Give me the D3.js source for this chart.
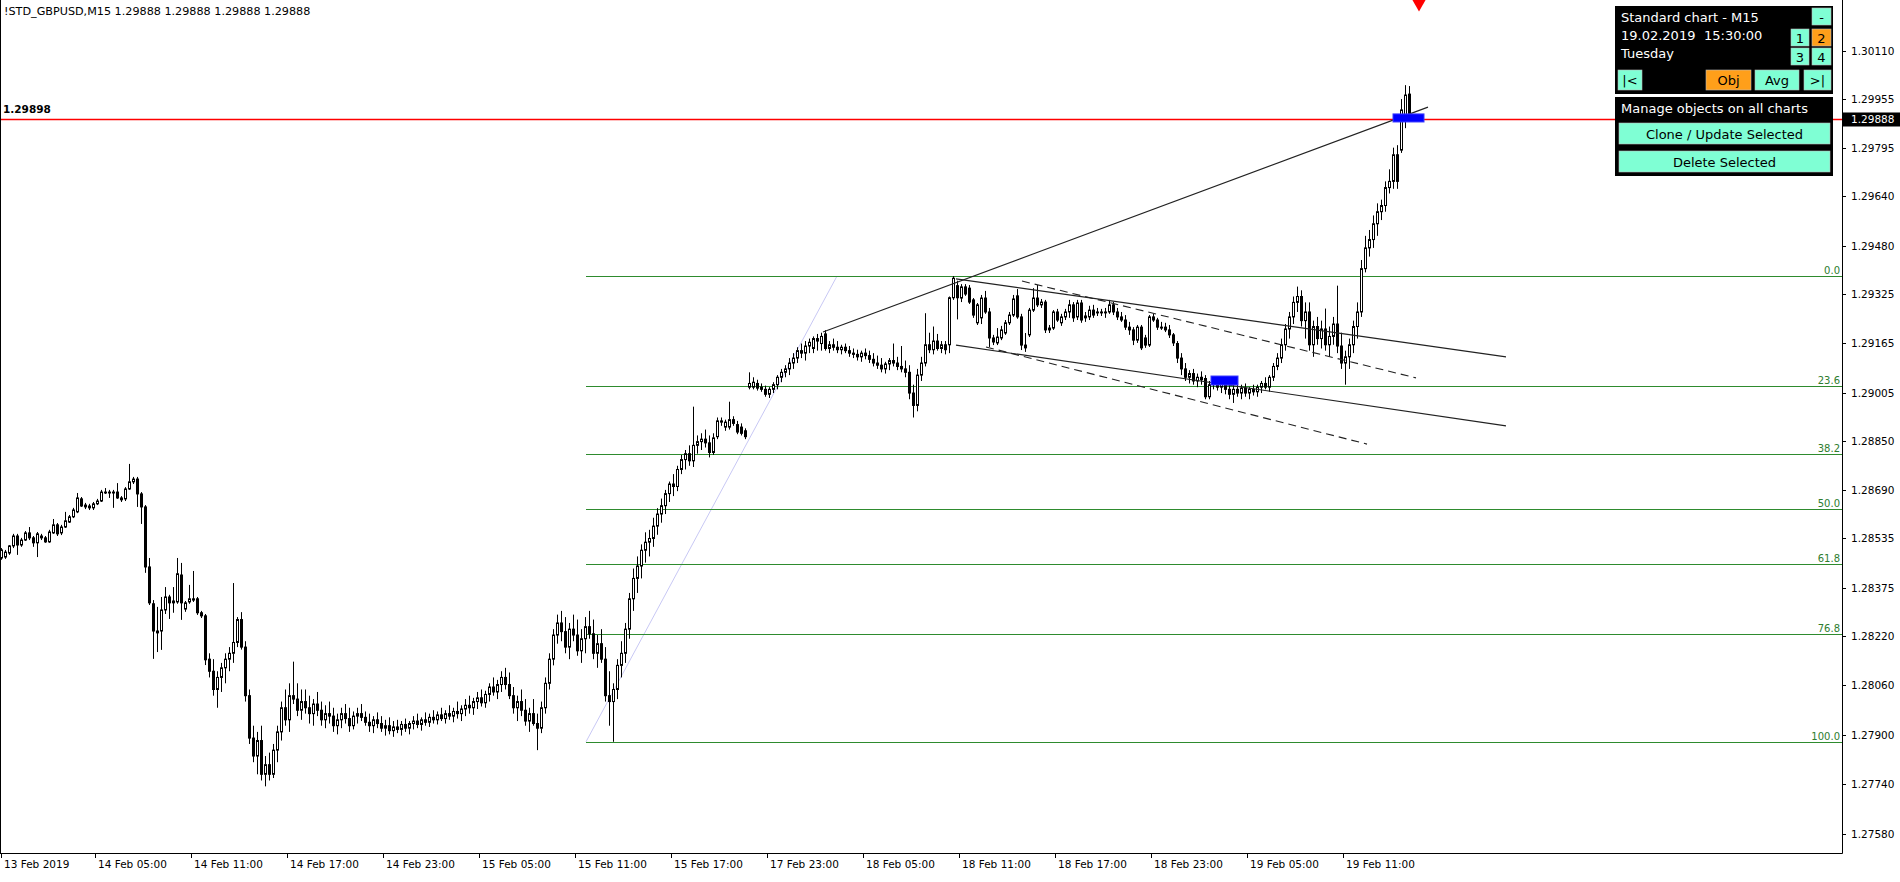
<!DOCTYPE html>
<html><head><meta charset="utf-8">
<script src="https://cdn.jsdelivr.net/npm/d3@7"></script>
<style>
body{margin:0;background:#fff;overflow:hidden}
svg{display:block}
text{font-family:"DejaVu Sans",sans-serif}
</style></head>
<body><svg id="c" width="1900" height="882"></svg>
<script>
// ---- data: M15 candles, GBPUSD, 13 Feb 23:00 .. 19 Feb 15:30 ----
const opens=[
1.28471,1.28474,1.28487,1.28510,1.28542,1.28513,1.28529,1.28552,1.28536,1.28520,1.28542,1.28536,1.28523,1.28552,1.28578,1.28552,1.28571,1.28587,1.28604,1.28620,
1.28662,1.28642,1.28639,1.28633,1.28646,1.28655,1.28681,1.28684,1.28684,1.28684,1.28665,1.28662,1.28694,1.28717,1.28726,1.28678,1.28636,1.28442,1.28323,1.28229,
1.28235,1.28303,1.28345,1.28332,1.28329,1.28416,1.28306,1.28329,1.28339,1.28339,1.28294,1.28284,
1.28144,1.28105,1.28046,1.28085,1.28116,1.28144,1.28163,1.28198,1.28272,1.28183,
1.28026,1.27889,1.27831,1.27881,1.27772,1.27803,1.27772,1.27850,1.27909,1.27987,
1.27948,1.28026,1.28015,1.27979,1.28007,1.27987,1.27968,1.27999,1.27979,1.27948,
1.27968,1.27960,1.27929,1.27948,1.27968,1.27952,1.27929,1.27960,1.27968,1.27956,
1.27940,1.27929,1.27948,1.27936,1.27921,1.27929,1.27913,1.27925,1.27917,1.27933,
1.27921,1.27936,1.27944,1.27933,1.27948,1.27940,1.27956,1.27948,1.27964,1.27952,
1.27968,1.27960,1.27975,1.27968,1.27983,1.27995,1.27987,1.28007,1.28019,1.28003,
1.28030,1.28054,1.28038,1.28062,1.28085,1.28062,1.28026,1.27987,1.28007,1.27979,
1.27944,1.27968,1.27936,1.27921,1.27987,1.28066,1.28144,1.28222,1.28261,1.28233,
1.28183,1.28241,1.28222,1.28171,1.28210,1.28249,1.28226,1.28163,1.28194,1.28144,
1.28026,1.28007,1.28046,1.28124,1.28163,1.28241,1.28339,1.28405,1.28445,1.28496,
1.28522,1.28534,1.28574,1.28613,1.28640,1.28679,1.28710,1.28702,1.28757,1.28789,
1.28808,1.28785,1.28835,1.28847,1.28855,1.28843,1.28812,1.28863,1.28910,1.28894,
1.28894,1.28918,1.28902,1.28894,1.28882,1.29023,1.29023,1.29035,1.29023,1.29016,
1.29000,1.29016,1.29031,1.29055,1.29071,1.29082,1.29101,1.29117,1.29141,1.29133,
1.29156,1.29148,1.29180,1.29164,1.29195,1.29148,1.29160,1.29152,1.29144,1.29152,
1.29141,1.29133,1.29129,1.29121,1.29133,1.29125,1.29113,1.29101,1.29094,1.29082,
1.29098,1.29109,1.29101,1.29090,1.29082,1.29071,1.29004,1.28964,1.29062,1.29101,
1.29160,1.29144,1.29172,1.29148,1.29160,1.29160,1.29312,1.29351,1.29311,1.29347,
1.29343,1.29305,1.29231,1.29247,1.29311,1.29266,1.29182,1.29166,1.29182,1.29198,
1.29231,1.29256,1.29318,1.29250,1.29159,1.29192,1.29272,1.29311,1.29289,1.29298,
1.29208,1.29214,1.29266,1.29231,1.29250,1.29266,1.29289,1.29250,1.29295,1.29253,
1.29250,1.29272,1.29266,1.29263,1.29266,1.29266,1.29289,1.29266,1.29250,1.29240,
1.29217,1.29208,1.29175,1.29217,1.29182,1.29159,1.29250,1.29240,1.29217,1.29217,
1.29208,1.29192,1.29164,1.29117,1.29082,1.29055,1.29067,1.29043,1.29055,1.29051,
1.28992,1.29031,1.29039,1.29023,1.29035,1.29016,1.29000,1.29016,1.29004,1.29020,
1.29004,1.29016,1.29008,1.29023,1.29035,1.29023,1.29055,1.29090,1.29117,1.29160,
1.29211,1.29250,1.29297,1.29316,1.29238,1.29266,1.29160,1.29219,1.29180,1.29211,
1.29160,1.29187,1.29227,1.29156,1.29101,1.29121,1.29160,1.29219,1.29266,1.29406,
1.29473,1.29500,1.29551,1.29590,1.29610,1.29668,1.29688,1.29774,1.29789,1.29893,
1.29970];
const highs=[
1.28503,1.28497,1.28513,1.28549,1.28549,1.28536,1.28558,1.28571,1.28542,1.28555,1.28549,1.28542,1.28562,1.28597,1.28584,1.28578,1.28620,1.28610,1.28633,1.28681,
1.28668,1.28649,1.28646,1.28652,1.28662,1.28691,1.28697,1.28691,1.28691,1.28713,1.28671,1.28700,1.28775,1.28733,1.28733,1.28684,1.28642,1.28471,1.28335,1.28313,
1.28345,1.28377,1.28352,1.28377,1.28471,1.28455,1.28332,1.28384,1.28429,1.28345,1.28300,1.28290,
1.28163,1.28144,1.28105,1.28132,1.28163,1.28183,1.28390,1.28280,1.28296,1.28202,
1.28046,1.27929,1.27909,1.27929,1.27831,1.27842,1.27870,1.27929,1.28007,1.28046,
1.28066,1.28136,1.28066,1.28046,1.28046,1.28026,1.28015,1.28038,1.28007,1.27995,
1.28007,1.27987,1.27968,1.27987,1.27999,1.27987,1.27975,1.27987,1.27999,1.27975,
1.27968,1.27960,1.27972,1.27960,1.27948,1.27956,1.27944,1.27948,1.27944,1.27952,
1.27944,1.27960,1.27968,1.27956,1.27972,1.27968,1.27979,1.27975,1.27987,1.27979,
1.27995,1.27987,1.28007,1.27995,1.28015,1.28026,1.28019,1.28038,1.28046,1.28042,
1.28066,1.28085,1.28077,1.28105,1.28116,1.28101,1.28054,1.28026,1.28046,1.28015,
1.27987,1.28015,1.27968,1.28007,1.28085,1.28163,1.28241,1.28288,1.28300,1.28280,
1.28261,1.28288,1.28272,1.28241,1.28280,1.28300,1.28272,1.28222,1.28241,1.28183,
1.28105,1.28066,1.28144,1.28202,1.28261,1.28358,1.28437,1.28476,1.28515,1.28554,
1.28562,1.28601,1.28632,1.28663,1.28691,1.28718,1.28742,1.28769,1.28804,1.28820,
1.28835,1.28960,1.28867,1.28874,1.28886,1.28867,1.28874,1.28925,1.28925,1.28918,
1.28976,1.28929,1.28914,1.28906,1.28890,1.29071,1.29055,1.29047,1.29035,1.29028,
1.29023,1.29039,1.29062,1.29082,1.29094,1.29117,1.29133,1.29152,1.29164,1.29172,
1.29180,1.29187,1.29195,1.29199,1.29207,1.29172,1.29180,1.29172,1.29160,1.29164,
1.29156,1.29148,1.29144,1.29141,1.29148,1.29141,1.29133,1.29125,1.29117,1.29105,
1.29117,1.29164,1.29121,1.29156,1.29109,1.29094,1.29031,1.29082,1.29121,1.29262,
1.29199,1.29219,1.29195,1.29172,1.29172,1.29316,1.29382,1.29367,1.29356,1.29356,
1.29353,1.29311,1.29295,1.29321,1.29334,1.29279,1.29192,1.29214,1.29221,1.29240,
1.29266,1.29321,1.29340,1.29260,1.29198,1.29279,1.29343,1.29353,1.29308,1.29305,
1.29224,1.29272,1.29276,1.29260,1.29276,1.29305,1.29298,1.29305,1.29305,1.29266,
1.29286,1.29289,1.29279,1.29276,1.29279,1.29305,1.29298,1.29279,1.29266,1.29256,
1.29234,1.29217,1.29224,1.29224,1.29192,1.29256,1.29260,1.29247,1.29234,1.29231,
1.29224,1.29198,1.29172,1.29133,1.29101,1.29078,1.29082,1.29067,1.29074,1.29062,
1.29043,1.29055,1.29051,1.29047,1.29051,1.29039,1.29031,1.29039,1.29031,1.29035,
1.29023,1.29031,1.29031,1.29043,1.29055,1.29062,1.29101,1.29133,1.29180,1.29227,
1.29266,1.29316,1.29348,1.29336,1.29297,1.29297,1.29238,1.29250,1.29238,1.29277,
1.29219,1.29250,1.29351,1.29199,1.29141,1.29180,1.29238,1.29297,1.29434,1.29512,
1.29531,1.29578,1.29617,1.29629,1.29688,1.29727,1.29797,1.29805,1.29954,1.29999,
1.29996];
const lows=[
1.28465,1.28468,1.28481,1.28503,1.28481,1.28507,1.28526,1.28529,1.28507,1.28474,1.28529,1.28520,1.28520,1.28549,1.28542,1.28545,1.28568,1.28584,1.28600,1.28616,
1.28636,1.28629,1.28626,1.28626,1.28642,1.28652,1.28678,1.28665,1.28633,1.28662,1.28652,1.28655,1.28691,1.28710,1.28636,1.28581,1.28423,1.28319,1.28145,1.28167,
1.28174,1.28290,1.28274,1.28294,1.28323,1.28271,1.28297,1.28323,1.28329,1.28287,1.28277,1.28125,
1.28085,1.28026,1.27987,1.28038,1.28066,1.28105,1.28132,1.28183,1.28175,1.28007,
1.27870,1.27811,1.27772,1.27752,1.27733,1.27752,1.27760,1.27811,1.27881,1.27929,
1.27909,1.27999,1.27960,1.27948,1.27968,1.27936,1.27929,1.27960,1.27929,1.27921,
1.27936,1.27909,1.27901,1.27921,1.27936,1.27909,1.27917,1.27936,1.27944,1.27929,
1.27909,1.27905,1.27921,1.27909,1.27897,1.27901,1.27893,1.27905,1.27897,1.27909,
1.27901,1.27917,1.27921,1.27913,1.27929,1.27925,1.27936,1.27933,1.27944,1.27936,
1.27948,1.27940,1.27952,1.27944,1.27960,1.27968,1.27964,1.27983,1.27991,1.27987,
1.28007,1.28026,1.28015,1.28038,1.28046,1.28015,1.27968,1.27944,1.27960,1.27929,
1.27909,1.27929,1.27850,1.27905,1.27968,1.28046,1.28124,1.28194,1.28202,1.28163,
1.28144,1.28202,1.28155,1.28132,1.28163,1.28210,1.28144,1.28116,1.28132,1.28007,
1.27929,1.27877,1.28015,1.28085,1.28132,1.28210,1.28300,1.28358,1.28405,1.28456,
1.28476,1.28507,1.28546,1.28585,1.28613,1.28652,1.28671,1.28687,1.28742,1.28757,
1.28769,1.28765,1.28808,1.28820,1.28828,1.28796,1.28804,1.28855,1.28898,1.28882,
1.28886,1.28898,1.28871,1.28867,1.28855,1.29016,1.29016,1.29012,1.29008,1.28992,
1.28988,1.29004,1.29016,1.29039,1.29055,1.29062,1.29082,1.29101,1.29117,1.29109,
1.29133,1.29133,1.29141,1.29141,1.29141,1.29133,1.29141,1.29133,1.29129,1.29133,
1.29121,1.29117,1.29109,1.29105,1.29113,1.29101,1.29090,1.29082,1.29071,1.29067,
1.29078,1.29090,1.29078,1.29071,1.29055,1.28984,1.28925,1.28945,1.29043,1.29090,
1.29133,1.29129,1.29141,1.29133,1.29129,1.29133,1.29305,1.29242,1.29298,1.29318,
1.29292,1.29247,1.29224,1.29227,1.29260,1.29153,1.29159,1.29159,1.29175,1.29192,
1.29224,1.29250,1.29244,1.29143,1.29137,1.29185,1.29266,1.29282,1.29279,1.29198,
1.29198,1.29208,1.29234,1.29221,1.29240,1.29247,1.29234,1.29240,1.29231,1.29234,
1.29240,1.29247,1.29253,1.29253,1.29247,1.29260,1.29256,1.29240,1.29234,1.29208,
1.29192,1.29159,1.29166,1.29143,1.29150,1.29153,1.29234,1.29208,1.29208,1.29201,
1.29182,1.29156,1.29101,1.29062,1.29043,1.29035,1.29031,1.29023,1.29031,1.28984,
1.28984,1.29016,1.29012,1.29004,1.29000,1.28984,1.28972,1.28992,1.28984,1.28992,
1.28984,1.28996,1.28992,1.29004,1.29016,1.29008,1.29043,1.29078,1.29101,1.29141,
1.29180,1.29227,1.29266,1.29219,1.29180,1.29141,1.29121,1.29160,1.29148,1.29141,
1.29121,1.29160,1.29133,1.29082,1.29031,1.29082,1.29133,1.29180,1.29250,1.29394,
1.29445,1.29473,1.29512,1.29563,1.29590,1.29649,1.29664,1.29664,1.29780,1.29860,
1.29880];
const closes=[
1.28497,1.28490,1.28510,1.28542,1.28513,1.28529,1.28552,1.28536,1.28520,1.28549,1.28536,1.28523,1.28555,1.28578,1.28549,1.28571,1.28591,1.28604,1.28626,1.28665,
1.28639,1.28636,1.28633,1.28646,1.28655,1.28684,1.28684,1.28681,1.28681,1.28665,1.28659,1.28694,1.28717,1.28726,1.28678,1.28636,1.28442,1.28326,1.28235,1.28235,
1.28303,1.28345,1.28326,1.28326,1.28420,1.28326,1.28326,1.28339,1.28335,1.28294,1.28284,1.28142,
1.28105,1.28046,1.28085,1.28116,1.28144,1.28163,1.28198,1.28272,1.28183,1.28026,
1.27889,1.27831,1.27881,1.27772,1.27803,1.27772,1.27850,1.27909,1.27987,1.27948,
1.28026,1.28015,1.27979,1.28007,1.27987,1.27968,1.27999,1.27979,1.27948,1.27968,
1.27960,1.27929,1.27948,1.27968,1.27952,1.27929,1.27960,1.27968,1.27956,1.27940,
1.27929,1.27948,1.27936,1.27921,1.27929,1.27913,1.27925,1.27917,1.27933,1.27921,
1.27936,1.27944,1.27933,1.27948,1.27940,1.27956,1.27948,1.27964,1.27952,1.27968,
1.27960,1.27975,1.27968,1.27983,1.27995,1.27987,1.28007,1.28019,1.28003,1.28030,
1.28054,1.28038,1.28062,1.28085,1.28062,1.28026,1.27987,1.28007,1.27979,1.27944,
1.27968,1.27936,1.27921,1.27987,1.28066,1.28144,1.28222,1.28261,1.28233,1.28183,
1.28241,1.28222,1.28171,1.28210,1.28249,1.28226,1.28163,1.28194,1.28144,1.28026,
1.28007,1.28046,1.28124,1.28163,1.28241,1.28339,1.28405,1.28445,1.28496,1.28522,
1.28534,1.28574,1.28613,1.28640,1.28679,1.28710,1.28702,1.28757,1.28789,1.28808,
1.28785,1.28835,1.28847,1.28855,1.28843,1.28812,1.28859,1.28914,1.28914,1.28910,
1.28918,1.28906,1.28878,1.28874,1.28863,1.29035,1.29039,1.29020,1.29016,1.29000,
1.29016,1.29031,1.29055,1.29071,1.29082,1.29101,1.29117,1.29141,1.29133,1.29156,
1.29168,1.29180,1.29172,1.29187,1.29148,1.29160,1.29152,1.29144,1.29152,1.29141,
1.29133,1.29129,1.29121,1.29133,1.29125,1.29113,1.29101,1.29094,1.29082,1.29098,
1.29109,1.29101,1.29090,1.29082,1.29071,1.29004,1.28964,1.29062,1.29101,1.29160,
1.29144,1.29172,1.29148,1.29160,1.29144,1.29312,1.29375,1.29312,1.29347,1.29324,
1.29298,1.29256,1.29289,1.29311,1.29266,1.29182,1.29169,1.29185,1.29208,1.29231,
1.29256,1.29308,1.29250,1.29159,1.29150,1.29272,1.29311,1.29289,1.29298,1.29208,
1.29214,1.29266,1.29240,1.29250,1.29266,1.29289,1.29247,1.29295,1.29240,1.29247,
1.29272,1.29256,1.29263,1.29266,1.29263,1.29289,1.29266,1.29250,1.29240,1.29217,
1.29208,1.29175,1.29217,1.29150,1.29159,1.29250,1.29240,1.29217,1.29214,1.29208,
1.29192,1.29166,1.29117,1.29082,1.29055,1.29067,1.29043,1.29055,1.29047,1.28992,
1.29031,1.29039,1.29023,1.29035,1.29016,1.29000,1.29016,1.29004,1.29020,1.29004,
1.29016,1.29008,1.29023,1.29035,1.29023,1.29055,1.29090,1.29117,1.29160,1.29211,
1.29250,1.29297,1.29316,1.29238,1.29266,1.29160,1.29219,1.29180,1.29211,1.29160,
1.29187,1.29227,1.29156,1.29101,1.29121,1.29160,1.29219,1.29266,1.29406,1.29473,
1.29500,1.29551,1.29590,1.29610,1.29668,1.29688,1.29774,1.29688,1.29919,1.29967,
1.29888];

const timeLabels=["13 Feb 2019","14 Feb 05:00","14 Feb 11:00","14 Feb 17:00","14 Feb 23:00","15 Feb 05:00","15 Feb 11:00","15 Feb 17:00","17 Feb 23:00","18 Feb 05:00","18 Feb 11:00","18 Feb 17:00","18 Feb 23:00","19 Feb 05:00","19 Feb 11:00"];
const timeLabelBars=[0,23.5,47.5,71.5,95.5,119.5,143.5,167.5,191.5,215.5,239.5,263.5,287.5,311.5,335.5];
const priceTicks=[1.30110,1.29955,1.29795,1.29640,1.29480,1.29325,1.29165,1.29005,1.28850,1.28690,1.28535,1.28375,1.28220,1.28060,1.27900,1.27740,1.27580];
const fibHigh=1.29382, fibLow=1.27877;
const fibLevels=[0,23.6,38.2,50,61.8,76.8,100];
const fibLabels=["0.0","23.6","38.2","50.0","61.8","76.8","100.0"];
const fibStartBar=146.25, fibEndBar=209;
const bidPrice=1.29888, lineLabelPrice=1.29898;
// trend lines: [bar1, price1, bar2, price2, dashed]
const trendLines=[
 [205.5,1.29201,356.75,1.29928,false],
 [238.75,1.29373,376.25,1.29121,false],
 [238.75,1.29159,376.25,1.28898,false],
 [255.25,1.29366,353.75,1.29053,true],
 [246.25,1.29153,341.5,1.28839,true]
];
// rectangles: [bar1, bar2, priceTop, priceBottom]
const rects=[[302.5,309.25,1.29059,1.29030],[348,355.75,1.29906,1.29880]];
const titleText="!STD_GBPUSD,M15  1.29888 1.29888 1.29888 1.29888";

// ---- layout ----
const W=1900,H=882, plotR=1842, plotB=853;
const svg=d3.select("#c");
svg.append("rect").attr("width",W).attr("height",H).attr("fill","#fff");
const x=d3.scaleLinear().domain([0,352]).range([1,1409]);
const y=d3.scaleLinear().domain([1.27580,1.30110]).range([833.7,50.8]);
svg.append("defs").append("clipPath").attr("id","clip").append("rect").attr("x",0).attr("y",0).attr("width",plotR).attr("height",plotB);
const plot=svg.append("g").attr("clip-path","url(#clip)");

// fib lines
const fp=l=>fibHigh-(fibHigh-fibLow)*l/100;
plot.append("line").attr("x1",x(fibStartBar)).attr("y1",y(fibLow)).attr("x2",x(fibEndBar)).attr("y2",y(fibHigh))
 .attr("stroke","#c8c8f4").attr("stroke-width",1);
plot.selectAll("line.fib").data(fibLevels).join("line").attr("class","fib")
 .attr("x1",x(fibStartBar)).attr("x2",plotR).attr("y1",d=>Math.round(y(fp(d)))+0.5).attr("y2",d=>Math.round(y(fp(d)))+0.5)
 .attr("stroke","#2e8b2e").attr("stroke-width",1);
svg.selectAll("text.fib").data(fibLevels).join("text").attr("class","fib")
 .attr("x",plotR-2).attr("y",d=>Math.round(y(fp(d)))-2).attr("text-anchor","end")
 .attr("font-size",10).attr("fill","#2e7d2e").text((d,i)=>fibLabels[i]);

// red bid line
plot.append("line").attr("x1",0).attr("x2",plotR).attr("y1",y(bidPrice)).attr("y2",y(bidPrice)).attr("stroke","#ff0000").attr("stroke-width",1.3);
svg.append("text").attr("x",3).attr("y",y(lineLabelPrice)-3).attr("font-size",10.5).attr("font-weight","bold").attr("fill","#000").text(lineLabelPrice.toFixed(5));

// candles
const data=opens.map((o,i)=>({i,o,h:highs[i],l:lows[i],c:closes[i]}));
const cg=plot.append("g");
cg.selectAll("line.wick").data(data).join("line").attr("class","wick")
 .attr("x1",d=>Math.round(x(d.i))+0.5).attr("x2",d=>Math.round(x(d.i))+0.5)
 .attr("y1",d=>y(d.h)).attr("y2",d=>y(d.l)).attr("stroke","#000").attr("stroke-width",1);
cg.selectAll("rect.body").data(data).join("rect").attr("class","body")
 .attr("x",d=>Math.round(x(d.i))-0.5).attr("width",2)
 .attr("y",d=>Math.min(y(d.o),y(d.c))).attr("height",d=>Math.max(0.01,Math.abs(y(d.o)-y(d.c))))
 .attr("fill",d=>d.c>=d.o?"#fff":"#000").attr("stroke","#000").attr("stroke-width",1);

// trend lines
plot.selectAll("line.tl").data(trendLines).join("line").attr("class","tl")
 .attr("x1",d=>x(d[0])).attr("y1",d=>y(d[1])).attr("x2",d=>x(d[2])).attr("y2",d=>y(d[3]))
 .attr("stroke","#222").attr("stroke-width",1.1).attr("stroke-dasharray",d=>d[4]?"8,5":null);
// rectangles
plot.selectAll("rect.obj").data(rects).join("rect").attr("class","obj")
 .attr("x",d=>x(d[0])).attr("width",d=>x(d[1])-x(d[0])).attr("y",d=>y(d[2])).attr("height",d=>y(d[3])-y(d[2]))
 .attr("fill","#0000ff").attr("stroke","#3a3aff").attr("stroke-width",1);
// red marker at top
svg.append("path").attr("d",d3.symbol(d3.symbolDiamond,150)()).attr("transform",`translate(${x(354.5)},0)`).attr("fill","#ff0000");

// axes frame
svg.append("line").attr("x1",0.5).attr("x2",0.5).attr("y1",0).attr("y2",plotB).attr("stroke","#000");
svg.append("line").attr("x1",plotR+0.5).attr("x2",plotR+0.5).attr("y1",0).attr("y2",plotB+0.5).attr("stroke","#000");
svg.append("line").attr("x1",0).attr("x2",plotR+0.5).attr("y1",plotB+0.5).attr("y2",plotB+0.5).attr("stroke","#000");

// y axis
const yax=svg.append("g");
yax.selectAll("line").data(priceTicks).join("line").attr("x1",plotR).attr("x2",plotR+4)
 .attr("y1",d=>Math.round(y(d))+0.5).attr("y2",d=>Math.round(y(d))+0.5).attr("stroke","#000");
yax.selectAll("text").data(priceTicks).join("text").attr("x",plotR+9).attr("y",d=>y(d)+4)
 .attr("font-size",10.5).attr("fill","#000").text(d=>d.toFixed(5));
// bid label
svg.append("rect").attr("x",plotR+1).attr("y",y(bidPrice)-7).attr("width",57).attr("height",14).attr("fill","#000");
svg.append("text").attr("x",plotR+9).attr("y",y(bidPrice)+4).attr("font-size",10.5).attr("fill","#fff").text(bidPrice.toFixed(5));

// x axis
const xax=svg.append("g");
xax.selectAll("line").data(timeLabelBars).join("line").attr("x1",d=>Math.round(x(d))+0.5).attr("x2",d=>Math.round(x(d))+0.5)
 .attr("y1",plotB).attr("y2",plotB+5).attr("stroke","#000");
xax.selectAll("text").data(timeLabelBars).join("text").attr("x",(d,i)=>i===0?4:x(d)+3).attr("y",plotB+15)
 .attr("font-size",10.5).attr("fill","#000").text((d,i)=>timeLabels[i]);

// title
svg.append("text").attr("x",4).attr("y",15).attr("font-size",11.2).attr("fill","#000").text(titleText);

// panel
const P=svg.append("g").attr("font-family","Liberation Sans, Arial, sans-serif");
P.append("rect").attr("x",1615).attr("y",6).attr("width",218).attr("height",88).attr("fill","#000");
P.append("rect").attr("x",1615).attr("y",97).attr("width",218).attr("height",79).attr("fill","#000");
const btn=(x0,y0,w,h,fill,label)=>{P.append("rect").attr("x",x0).attr("y",y0).attr("width",w).attr("height",h).attr("fill",fill).attr("stroke","#bbb").attr("stroke-width",0.6);
 P.append("text").attr("x",x0+w/2).attr("y",y0+h/2+5).attr("text-anchor","middle").attr("font-size",13).attr("fill","#000").text(label);};
P.append("text").attr("x",1621).attr("y",22).attr("font-size",13).attr("fill","#fff").text("Standard chart - M15");
P.append("text").attr("x",1621).attr("y",40).attr("font-size",13).attr("fill","#fff").text("19.02.2019");
P.append("text").attr("x",1704).attr("y",40).attr("font-size",13).attr("fill","#fff").text("15:30:00");
P.append("text").attr("x",1621).attr("y",58).attr("font-size",13).attr("fill","#fff").text("Tuesday");
btn(1812,8,19,17,"#7fffd4","-");
btn(1791,29,18,17,"#7fffd4","1"); btn(1812,29,19,17,"#ff9f1a","2");
btn(1791,48,18,17,"#7fffd4","3"); btn(1812,48,19,17,"#7fffd4","4");
btn(1618,70,24,20,"#7fffd4","|<"); btn(1706,70,45,20,"#ff9f1a","Obj"); btn(1755,70,44,20,"#7fffd4","Avg"); btn(1804,70,27,20,"#7fffd4",">|");
P.append("text").attr("x",1621).attr("y",113).attr("font-size",13).attr("fill","#fff").text("Manage objects on all charts");
btn(1619,123,211,21,"#7fffd4","Clone / Update Selected");
btn(1619,151,211,21,"#7fffd4","Delete Selected");
</script></body></html>
